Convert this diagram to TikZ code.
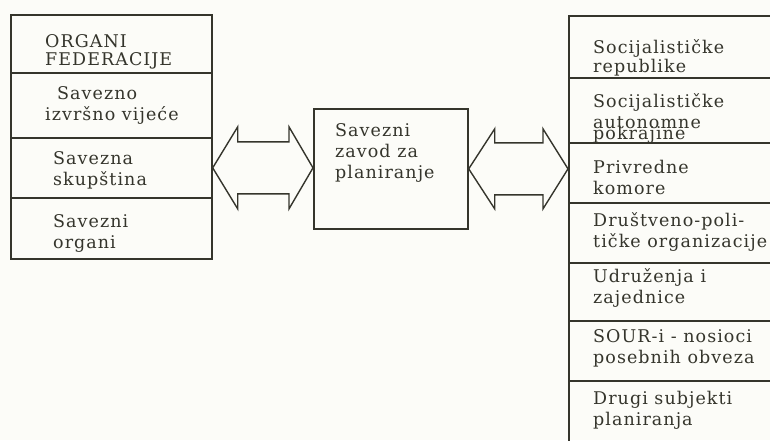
\documentclass[tikz,border=0pt]{standalone}
\usepackage{fontspec}
\setmainfont{DejaVu Serif}[LetterSpace=6]
\usetikzlibrary{calc}
\definecolor{ink}{HTML}{35352C}
\definecolor{paper}{HTML}{FCFCF8}
\begin{document}
\begin{tikzpicture}[x=1pt,y=1pt,
  cell/.style={draw=ink, line width=1.7pt, anchor=north west, inner sep=0pt},
  lbl/.style={text=ink, anchor=base west, inner sep=0pt, align=left,
    font=\fontsize{17.5}{21}\selectfont},
  dblarrow/.style={draw=ink, line width=1.4pt, line join=miter, fill=paper}]
\useasboundingbox (0,0) rectangle (770,-440);
\fill[paper] (0,0) rectangle (770,-440);
% left column
\node[cell, minimum width=201pt, minimum height=58pt] (l1) at (10,-14) {};
\node[cell, minimum width=201pt, minimum height=65pt] (l2) at (10,-72) {};
\node[cell, minimum width=201pt, minimum height=60pt] (l3) at (10,-137) {};
\node[cell, minimum width=201pt, minimum height=61pt] (l4) at (10,-197) {};
\node[lbl] (t1) at (45,-65) {ORGANI\\[-3pt]FEDERACIJE};
\node[lbl] (t2) at (45,-120) {\hspace*{12pt}Savezno\\izvršno vijeće};
\node[lbl] (t3) at (53,-185) {Savezna\\skupština};
\node[lbl] (t4) at (53,-248) {Savezni\\organi};
% center
\node[cell, minimum width=154pt, minimum height=120pt] (z) at (313,-108) {};
\node[lbl] (tz) at (335,-178) {Savezni\\zavod za\\planiranje};
% right column
\begin{scope}
\clip (0,0) rectangle (770,-440);
\node[cell, minimum width=230pt, minimum height=62pt] (r1) at (568,-15) {};
\node[cell, minimum width=230pt, minimum height=65pt] (r2) at (568,-77) {};
\node[cell, minimum width=230pt, minimum height=60pt] (r3) at (568,-142) {};
\node[cell, minimum width=230pt, minimum height=60pt] (r4) at (568,-202) {};
\node[cell, minimum width=230pt, minimum height=58pt] (r5) at (568,-262) {};
\node[cell, minimum width=230pt, minimum height=60pt] (r6) at (568,-320) {};
\node[cell, minimum width=230pt, minimum height=80pt] (r7) at (568,-380) {};
\end{scope}
\node[lbl] (s1) at (593,-72) {Socijalističke\\[-2pt]republike};
\node[lbl] (s2) at (593,-128) {Socijalističke\\autonomne};
\node[lbl] (s2b) at (593,-139) {pokrajine};
\node[lbl] (s3) at (593,-194) {Privredne\\komore};
\node[lbl] (s4) at (593,-247) {Društveno-poli-\\tičke organizacije};
\node[lbl] (s5) at (593,-303) {Udruženja i\\zajednice};
\node[lbl] (s6) at (593,-363) {SOUR-i - nosioci\\posebnih obveza};
\node[lbl] (s7) at (593,-425) {Drugi subjekti\\planiranja};
% arrows
\coordinate (a1) at (l3.east);
\coordinate (b1) at (z.west |- l3.east);
\draw[dblarrow] (a1) -- ($(a1)+(25,41)$) -- ($(a1)+(25,26)$) -- ($(b1)+(-24,26)$)
  -- ($(b1)+(-24,41)$) -- (b1) -- ($(b1)+(-24,-41)$) -- ($(b1)+(-24,-26)$)
  -- ($(a1)+(25,-26)$) -- ($(a1)+(25,-41)$) -- cycle;
\coordinate (a2) at (z.east);
\coordinate (b2) at (r3.west |- z.east);
\draw[dblarrow] (a2) -- ($(a2)+(26,40)$) -- ($(a2)+(26,26)$) -- ($(b2)+(-25,26)$)
  -- ($(b2)+(-25,40)$) -- (b2) -- ($(b2)+(-25,-40)$) -- ($(b2)+(-25,-26)$)
  -- ($(a2)+(26,-26)$) -- ($(a2)+(26,-40)$) -- cycle;
\end{tikzpicture}
\end{document}
